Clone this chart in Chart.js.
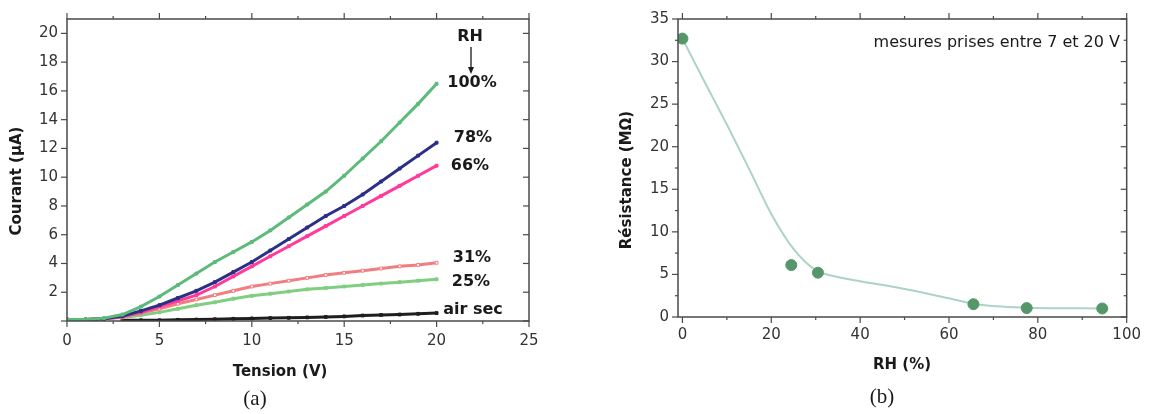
<!DOCTYPE html>
<html><head><meta charset="utf-8">
<script src="https://cdn.jsdelivr.net/npm/chart.js@4"></script>
<style>
html,body{margin:0;padding:0;background:#fff;overflow:hidden}
#wrap{position:relative;width:1150px;height:414px}
canvas{position:absolute;top:0}
#ca{left:0}#cb{left:575px}
</style></head><body>
<div id="wrap"><canvas id="ca" width="575" height="414"></canvas><canvas id="cb" width="575" height="414"></canvas></div>
<script>
/* (a) courbes I-V selon l'humidité relative, (b) résistance vs RH */
const AXIS = '#4a4a4a', TXT = '#1a1a1a', TICK = '#333';
Chart.defaults.font.family = '"DejaVu Sans", sans-serif';
Chart.defaults.font.size = 15;
Chart.defaults.color = TICK;

// ---- (a) données ----
const TENSION = [0, 1, 2, 3, 4, 5, 6, 7, 8, 9, 10, 11, 12, 13, 14, 15, 16, 17, 18, 19, 20];
const I_100 = [0.1, 0.1, 0.2, 0.45, 1.0, 1.7, 2.5, 3.3, 4.1, 4.8, 5.5, 6.3, 7.2, 8.1, 9.0, 10.1, 11.3, 12.5, 13.8, 15.1, 16.5];
const I_78 = [0.1, 0.1, 0.15, 0.35, 0.7, 1.1, 1.6, 2.1, 2.7, 3.4, 4.1, 4.9, 5.7, 6.5, 7.3, 8.0, 8.8, 9.7, 10.6, 11.5, 12.4];
const I_66 = [0.1, 0.1, 0.15, 0.3, 0.6, 1.0, 1.4, 1.8, 2.4, 3.1, 3.8, 4.5, 5.2, 5.9, 6.6, 7.3, 8.0, 8.7, 9.4, 10.1, 10.8];
const I_31 = [0.1, 0.1, 0.15, 0.3, 0.55, 0.85, 1.2, 1.5, 1.8, 2.1, 2.4, 2.6, 2.8, 3.0, 3.2, 3.35, 3.5, 3.65, 3.8, 3.9, 4.05];
const I_25 = [0.1, 0.1, 0.15, 0.25, 0.4, 0.6, 0.85, 1.1, 1.3, 1.55, 1.75, 1.9, 2.05, 2.2, 2.3, 2.4, 2.5, 2.6, 2.7, 2.8, 2.9];
const I_AIR = [null, null, null, 0.05, 0.05, 0.05, 0.08, 0.1, 0.12, 0.15, 0.18, 0.2, 0.22, 0.25, 0.28, 0.32, 0.38, 0.42, 0.45, 0.5, 0.55];
const SERIES_A = [
  ['100%', I_100, '#5dbb7a'], ['78%', I_78, '#2b2f86'], ['66%', I_66, '#ff3a9a'],
  ['31%', I_31, '#f27d80'], ['25%', I_25, '#80cf80'], ['air sec', I_AIR, '#1e1e1e'],
];

// ---- (b) ----
const RH_MES = [0, 24.5, 30.5, 65.5, 77.5, 94.5];
const R_MES = [32.7, 6.1, 5.2, 1.5, 1.05, 1.0];
const RH_FIT = [0, 5, 10, 15, 20, 25, 30, 35, 40, 50, 60, 66, 78, 95];
const R_FIT = [32.7, 27.6, 22.6, 17.4, 12.1, 8.0, 5.5, 4.7, 4.2, 3.3, 2.2, 1.5, 1.1, 1.0];
const RH_TICKS = [0, 10, 20, 30, 40, 50, 60, 70, 80, 90, 100];

const xy = (xs, ys) => xs.map((v, i) => ({ x: v, y: ys[i] }));

// cadre + graduations sur les 4 côtés
const frame = {
  id: 'frame',
  afterDatasetsDraw(chart, args, o) {
    const { ctx, chartArea: a, scales: { x, y } } = chart;
    const seg = (x0, y0, x1, y1) => { ctx.beginPath(); ctx.moveTo(x0, y0); ctx.lineTo(x1, y1); ctx.stroke(); };
    ctx.save();
    ctx.strokeStyle = AXIS; ctx.lineWidth = 1.5;
    ctx.strokeRect(a.left, a.top, a.right - a.left, a.bottom - a.top);
    ctx.lineWidth = 1.2;
    x.ticks.forEach(t => {
      const p = x.getPixelForValue(t.value), L = t.value % o.xMajor === 0 ? 6 : 3;
      seg(p, a.bottom, p, a.bottom + L); seg(p, a.top, p, a.top - L);
    });
    y.ticks.forEach(t => {
      const p = y.getPixelForValue(t.value), L = t.value % o.yMajor === 0 ? 6 : 3;
      seg(a.left, p, a.left - L, p); seg(a.right, p, a.right - L, p);
    });
    ctx.restore();
  }
};

// textes libres (titres d'axes, étiquettes)
const notes = {
  id: 'notes',
  afterDraw(chart, args, o) {
    const ctx = chart.ctx;
    ctx.save();
    o.items.forEach(([t, x, y, font, align, rot]) => {
      ctx.save();
      ctx.translate(x, y); if (rot) ctx.rotate(rot);
      ctx.font = font; ctx.fillStyle = TXT; ctx.textAlign = align || 'center'; ctx.textBaseline = 'middle';
      ctx.fillText(t, 0, 0);
      ctx.restore();
    });
    if (o.arrow) {
      const [ax, y0, y1] = o.arrow;
      ctx.strokeStyle = TXT; ctx.fillStyle = TXT; ctx.lineWidth = 1.3;
      ctx.beginPath(); ctx.moveTo(ax, y0); ctx.lineTo(ax, y1 - 6); ctx.stroke();
      ctx.beginPath(); ctx.moveTo(ax - 3, y1 - 7); ctx.lineTo(ax + 3, y1 - 7); ctx.lineTo(ax, y1); ctx.closePath(); ctx.fill();
    }
    ctx.restore();
  }
};

const B15 = 'bold 15px "DejaVu Sans"', B16 = 'bold 16px "DejaVu Sans"';
const SERIF = '21px "Liberation Serif", serif';

new Chart('ca', {
  type: 'line',
  data: {
    datasets: SERIES_A.map(([lab, ys, c]) => ({
      label: lab, data: xy(TENSION, ys), borderColor: c, backgroundColor: c,
      borderWidth: 3, pointStyle: 'rect', pointRadius: 2, pointBorderWidth: 1,
      pointBackgroundColor: lab === '31%' ? '#fff' : c, tension: 0, spanGaps: false
    }))
  },
  options: {
    responsive: false, animation: false,
    layout: { padding: { top: 19, right: 46, left: 0, bottom: 0 } },
    plugins: {
      legend: { display: false }, tooltip: { enabled: false },
      frame: { xMajor: 5, yMajor: 2 },
      notes: {
        items: [
          ['Courant (\u00b5A)', 17, 181, B15, 'center', -Math.PI / 2],
          ['Tension (V)', 280, 372, B15],
          ['(a)', 255, 399, SERIF],
          ['RH', 470, 37, B16],
          ['100%', 472, 83, B16],
          ['78%', 473, 138, B16],
          ['66%', 470, 166, B16],
          ['31%', 472, 258, B16],
          ['25%', 471, 282, B16],
          ['air sec', 473, 310, B16],
        ],
        arrow: [471, 47, 74]
      }
    },
    scales: {
      x: {
        type: 'linear', min: 0, max: 25,
        grid: { display: false, drawTicks: false }, border: { display: false },
        ticks: { stepSize: 2.5, padding: 11, color: TICK, callback: v => v % 5 === 0 ? v : '' },
        afterFit: s => { s.height = 93; }
      },
      y: {
        min: 0, max: 21,
        grid: { display: false, drawTicks: false }, border: { display: false },
        ticks: { stepSize: 1, padding: 9, color: TICK, callback: v => (v % 2 === 0 && v > 0 && v <= 20) ? v : '' },
        afterFit: s => { s.width = 67; }
      }
    }
  },
  plugins: [frame, notes]
});

new Chart('cb', {
  type: 'scatter',
  data: {
    datasets: [
      { data: xy(RH_MES, R_MES), backgroundColor: '#55976b', borderColor: '#55976b', pointRadius: 5.5, showLine: false },
      { type: 'line', data: xy(RH_FIT, R_FIT), borderColor: '#acd3c3', borderWidth: 2, pointRadius: 0, cubicInterpolationMode: 'monotone' }
    ]
  },
  options: {
    responsive: false, animation: false,
    layout: { padding: { top: 19, right: 20, left: 0, bottom: 0 } },
    plugins: {
      legend: { display: false }, tooltip: { enabled: false },
      frame: { xMajor: 20, yMajor: 5 },
      notes: {
        items: [
          ['R\u00e9sistance (M\u03a9)', 52, 180, B15, 'center', -Math.PI / 2],
          ['RH (%)', 327, 365, B15],
          ['(b)', 307, 397, SERIF],
          ['mesures prises entre 7 et 20 V', 545, 43, '16px "DejaVu Sans"', 'right'],
        ]
      }
    },
    scales: {
      x: {
        type: 'linear', min: -1, max: 100,
        grid: { display: false, drawTicks: false }, border: { display: false },
        afterBuildTicks: s => { s.ticks = RH_TICKS.map(v => ({ value: v })); },
        ticks: { padding: 9, color: TICK, callback: v => v % 20 === 0 ? v : '' },
        afterFit: s => { s.height = 97; }
      },
      y: {
        min: 0, max: 35,
        grid: { display: false, drawTicks: false }, border: { display: false },
        ticks: { stepSize: 2.5, padding: 9, color: TICK, callback: v => v % 5 === 0 ? v : '' },
        afterFit: s => { s.width = 103; }
      }
    }
  },
  plugins: [frame, notes]
});
</script>
</body></html>
